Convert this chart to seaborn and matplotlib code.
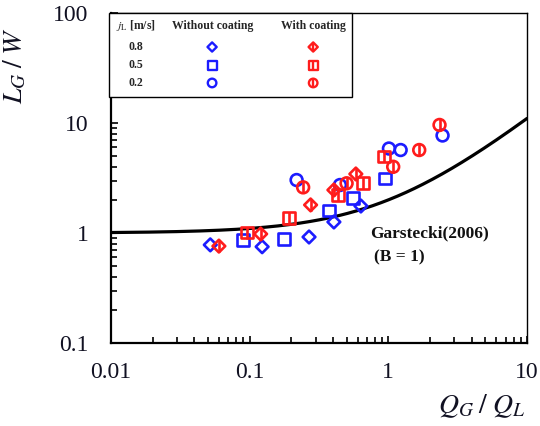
import numpy as np
import pandas as pd
import matplotlib
matplotlib.use("Agg")
import matplotlib.pyplot as plt
from matplotlib.patches import Rectangle
import seaborn as sns

# ---------------- data ----------------
# Without coating (blue)
x_wo_08 = [0.052, 0.123, 0.268, 0.405, 0.634]
y_wo_08 = [0.78, 0.75, 0.92, 1.26, 1.76]
x_wo_05 = [0.089, 0.177, 0.375, 0.558, 0.944]
y_wo_05 = [0.87, 0.88, 1.60, 2.07, 3.13]
x_wo_02 = [0.218, 0.448, 1.01, 1.227, 2.46]
y_wo_02 = [3.03, 2.73, 5.86, 5.68, 7.70]
# With coating (red)
x_w_08 = [0.060, 0.120, 0.275, 0.405, 0.583]
y_w_08 = [0.76, 0.98, 1.80, 2.46, 3.44]
x_w_05 = [0.096, 0.193, 0.435, 0.659, 0.929]
y_w_05 = [1.01, 1.36, 2.22, 2.83, 4.96]
x_w_02 = [0.243, 0.50, 1.084, 1.67, 2.34]
y_w_02 = [2.60, 2.83, 4.00, 5.68, 9.60]

jl_labels = ["0.8", "0.5", "0.2"]
legend_headers = ["$j_\\mathrm{L}$ [m/s]", "Without coating", "With coating"]
model_label = "Garstecki(2006)"
model_param = "(B = 1)"
B = 1.0  # Garstecki model: L/W = 1 + B * QG/QL

xticks = [0.01, 0.1, 1, 10]
xticklabels = ["0.01", "0.1", "1", "10"]
yticks = [0.1, 1, 10, 100]
yticklabels = ["0.1", "1", "10", "100"]

BLUE = "#1c1cff"
RED = "#ff1c1c"

# ---------------- style ----------------
sns.set_style("ticks")
plt.rcParams["font.family"] = ["Liberation Serif", "DejaVu Serif"]
plt.rcParams["mathtext.fontset"] = "stix"

fig = plt.figure(figsize=(5.4, 4.26), dpi=100)
ax = fig.add_axes([111 / 540, 1 - 343 / 426, 416 / 540, 330 / 426])

# model curve
xm = np.logspace(-2, 1, 300)
model = pd.DataFrame({"x": xm, "y": 1 + B * xm})
sns.lineplot(data=model, x="x", y="y", ax=ax, color="black", lw=2.3, zorder=2)

groups = [
    (x_wo_08, y_wo_08, "D", 42, BLUE, False),
    (x_wo_05, y_wo_05, "s", 72, BLUE, False),
    (x_wo_02, y_wo_02, "o", 72, BLUE, False),
    (x_w_08, y_w_08, "D", 42, RED, True),
    (x_w_05, y_w_05, "s", 72, RED, True),
    (x_w_02, y_w_02, "o", 72, RED, True),
]
for xs, ys, mk, s, col, bar in groups:
    df = pd.DataFrame({"x": xs, "y": ys})
    sns.scatterplot(data=df, x="x", y="y", ax=ax, marker=mk, s=s,
                    facecolor="none", edgecolor=col, linewidth=1.9, zorder=3)
    if bar:
        sb = 64 if mk != "D" else 70
        sns.scatterplot(data=df, x="x", y="y", ax=ax, marker="|", s=sb,
                        color=col, linewidth=1.9, zorder=3)

ax.set_xscale("log")
ax.set_yscale("log")
ax.set_xlim(0.01, 10)
ax.set_ylim(0.1, 100)
ax.set_xticks(xticks)
ax.set_xticklabels(xticklabels)
ax.set_yticks(yticks)
ax.set_yticklabels(yticklabels)
ax.tick_params(which="both", direction="in", top=False, right=False,
               colors="black", width=1.2)
ax.tick_params(which="major", length=5, labelsize=17, labelcolor="#111122")
ax.tick_params(axis="x", which="major", pad=14)
ax.tick_params(axis="y", which="major", pad=16)
ax.tick_params(which="minor", length=4.5)

for side in ["left", "bottom"]:
    ax.spines[side].set_linewidth(1.6)
for side in ["top", "right"]:
    ax.spines[side].set_linewidth(1.0)
for sp in ax.spines.values():
    sp.set_color("black")

ax.set_xlabel("$Q_G\\;/\\;Q_L$", fontsize=20, color="#111122")
ax.set_ylabel("$L_G\\;/\\;W$", fontsize=20, color="#111122")
ax.xaxis.set_label_coords(0.89, -0.15)
ax.yaxis.set_label_coords(-0.198, 0.84)

# model annotation
ax.text(0.623, 0.333, model_label, transform=ax.transAxes, fontsize=12.5,
        fontweight="bold", va="center", ha="left", color="#111111")
ax.text(0.632, 0.26, model_param, transform=ax.transAxes, fontsize=12.5,
        fontweight="bold", va="center", ha="left", color="#111111")

# legend table
ax.add_patch(Rectangle((-0.005, 0.745), 0.584, 0.255, transform=ax.transAxes,
                       facecolor="white", edgecolor="black", lw=1.0,
                       zorder=5, clip_on=False))
hx = [0.06, 0.245, 0.486]
for x0, t in zip(hx, legend_headers):
    ax.text(x0, 0.962, t, transform=ax.transAxes, fontsize=8.5,
            fontweight="bold", ha="center", va="center", zorder=6)
row_y = [0.897, 0.842, 0.788]
leg_mk = [("D", 22), ("s", 42), ("o", 38)]
for yy, lab, (mk, s) in zip(row_y, jl_labels, leg_mk):
    ax.text(0.06, yy, lab, transform=ax.transAxes, fontsize=8.5,
            fontweight="bold", ha="center", va="center", zorder=6)
    ax.scatter([0.243], [yy], transform=ax.transAxes, marker=mk, s=s,
               facecolor="none", edgecolor=BLUE, linewidth=1.7, zorder=6,
               clip_on=False)
    ax.scatter([0.486], [yy], transform=ax.transAxes, marker=mk, s=s,
               facecolor="none", edgecolor=RED, linewidth=1.7, zorder=6,
               clip_on=False)
    ax.scatter([0.486], [yy], transform=ax.transAxes, marker="|",
               s=s * 1.1 if mk != "D" else 38, color=RED, linewidth=1.7,
               zorder=6, clip_on=False)

fig.savefig("out.png", dpi=100)
